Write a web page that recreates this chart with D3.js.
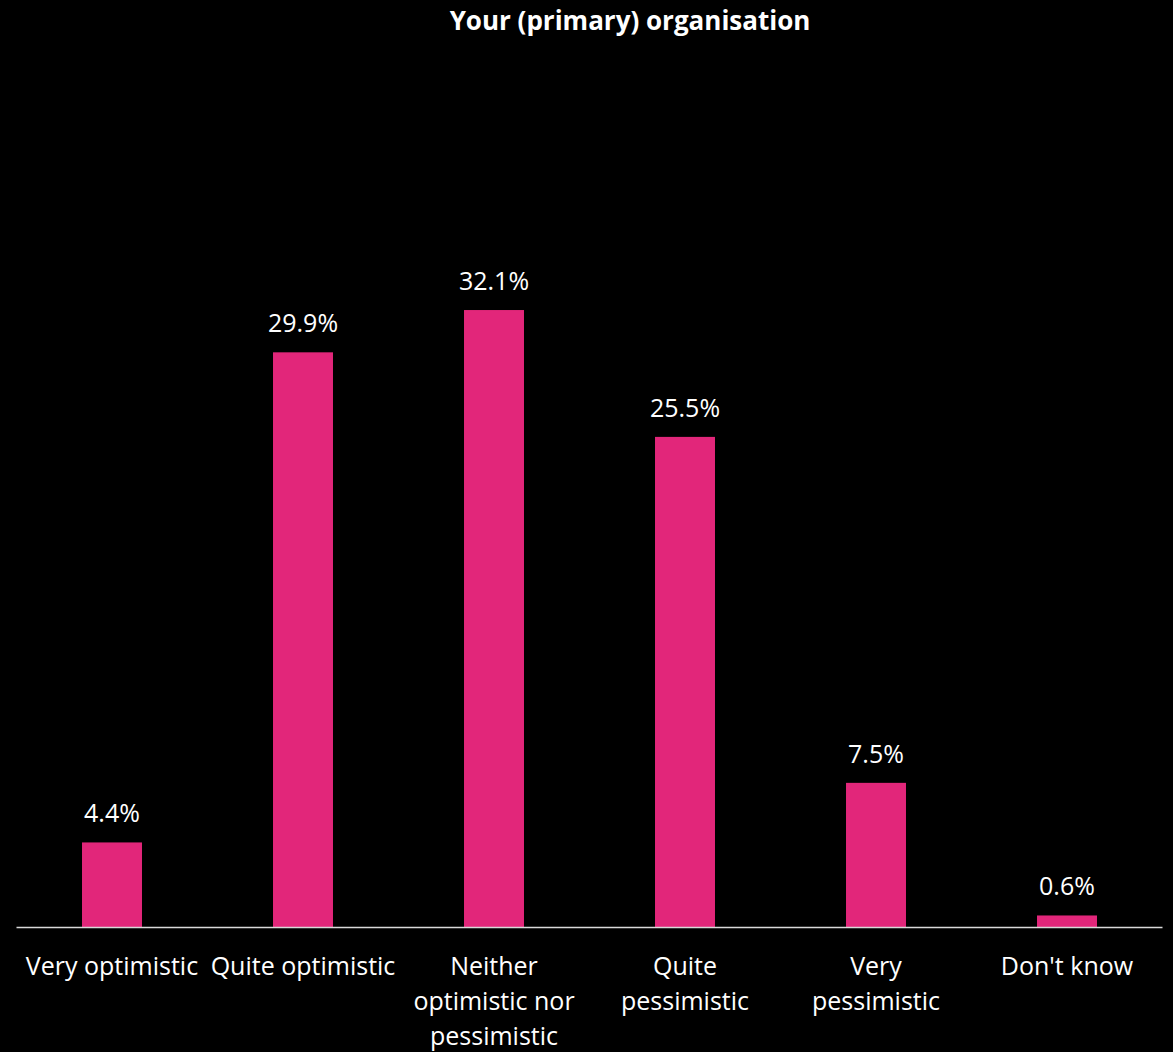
<!DOCTYPE html>
<html>
<head>
<meta charset="utf-8">
<script src="https://cdn.jsdelivr.net/npm/d3@7"></script>
<style>
  html, body { margin: 0; padding: 0; background: #000; }
  svg { display: block; font-family: "Open Sans", "Noto Sans", sans-serif; }
</style>
</head>
<body>
<svg id="canvas"></svg>
<script>
// Chart data
var categories = [
  'Very optimistic',
  'Quite optimistic',
  'Neither optimistic nor pessimistic',
  'Quite pessimistic',
  'Very pessimistic',
  "Don't know"
];
// label line breaks as in the original
var categoryLines = [
  ['Very optimistic'],
  ['Quite optimistic'],
  ['Neither', 'optimistic nor', 'pessimistic'],
  ['Quite', 'pessimistic'],
  ['Very', 'pessimistic'],
  ["Don't know"]
];
var values = [4.4, 29.9, 32.1, 25.5, 7.5, 0.6];
var title = 'Your (primary) organisation';

var canvasWidth = 1173;
var canvasHeight = 1052;
var baseY = 927;

var svg = d3.select('#canvas')
  .attr('width', canvasWidth)
  .attr('height', canvasHeight);

svg.append('rect')
  .attr('width', canvasWidth)
  .attr('height', canvasHeight)
  .attr('fill', '#000');

var x = d3.scaleBand()
  .domain(categories)
  .range([16.5, 1162.5])
  .paddingInner(0.686)
  .paddingOuter(0.343);

var y = d3.scaleLinear()
  .domain([0, 35])
  .range([baseY, 254.3]);

// Title
svg.append('text')
  .attr('x', 630)
  .attr('y', 30)
  .attr('text-anchor', 'middle')
  .attr('fill', '#fff')
  .style('font-weight', 'bold')
  .style('font-size', '26px')
  .text(title);

// Bars
var bars = svg.append('g')
  .selectAll('.bar')
  .data(values)
  .enter()
  .append('g')
  .classed('bar', true);

bars.append('rect')
  .attr('x', function(d, i) { return x(categories[i]); })
  .attr('y', function(d) { return y(d); })
  .attr('width', x.bandwidth())
  .attr('height', function(d) { return baseY - y(d); })
  .attr('fill', '#E2267A');

// Value labels
bars.append('text')
  .attr('x', function(d, i) { return x(categories[i]) + x.bandwidth() / 2; })
  .attr('y', function(d) { return y(d) - 20; })
  .attr('text-anchor', 'middle')
  .attr('fill', '#fff')
  .style('font-size', '25px')
  .text(function(d) { return d.toFixed(1) + '%'; });

// Axis line
svg.append('line')
  .attr('x1', x.range()[0])
  .attr('x2', x.range()[1])
  .attr('y1', baseY + 0.5)
  .attr('y2', baseY + 0.5)
  .attr('stroke', '#d9d9d9')
  .attr('stroke-width', 1.5);

// Category labels
var labels = svg.append('g')
  .selectAll('.cat-label')
  .data(categoryLines)
  .enter()
  .append('text')
  .classed('cat-label', true)
  .attr('text-anchor', 'middle')
  .attr('fill', '#fff')
  .style('font-size', '25px');

labels.selectAll('tspan')
  .data(function(d, i) {
    return d.map(function(line) { return { line: line, i: i }; });
  })
  .enter()
  .append('tspan')
  .attr('x', function(d) { return x(categories[d.i]) + x.bandwidth() / 2; })
  .attr('y', function(d, j) { return 975 + j * 35; })
  .text(function(d) { return d.line; });
</script>
</body>
</html>
